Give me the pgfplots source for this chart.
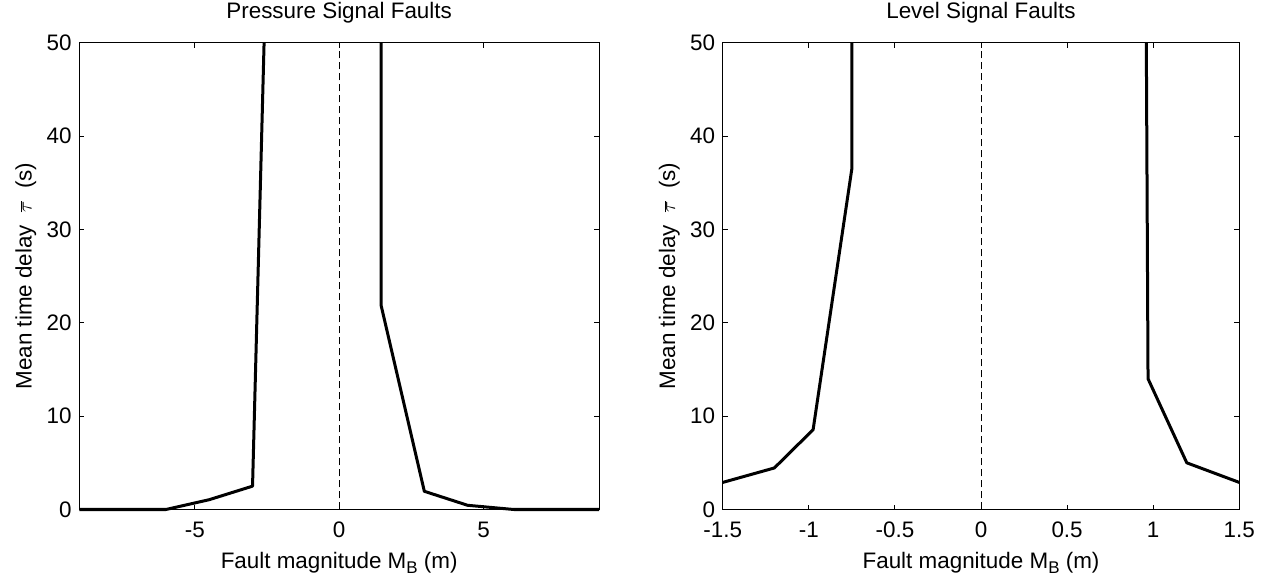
\documentclass[border=0pt]{standalone}
\usepackage{pgfplots}
\pgfplotsset{compat=1.18}
\usepackage{fontspec}
\setmainfont{Liberation Sans}
\begin{document}
\begin{tikzpicture}
\useasboundingbox (0,0) rectangle (1270bp,581bp);
\pgfplotsset{
  myax/.style={
    scale only axis, anchor=south west,
    height=466.8bp, clip=false,
    ymin=0, ymax=50, ytick={0,10,20,30,40,50},
    tick align=inside, tick pos=both, major tick length=5bp,
    axis line style={line width=1bp}, every tick/.style={line width=0.9bp, black},
    font=\fontsize{22.5}{26}\selectfont,
    /pgf/number format/assume math mode=true,
    xticklabel style={anchor=base, yshift=-27.5bp, inner sep=0pt},
    yticklabel style={anchor=east, xshift=-7.5bp, inner sep=0pt},
    title style={at={(axis description cs:0.5,1.040)}, anchor=base, inner sep=0pt},
    xlabel style={at={(axis description cs:0.5,-0.126)}, anchor=base, inner sep=0pt},
    xlabel={Fault magnitude M\raisebox{-0.45ex}{\fontsize{17}{17}\selectfont B} (m)},
    ylabel={Mean time delay\ \ $\overline{\tau}$\ \ (s)},
  },
  dataline/.style={black, line width=3bp, line join=round},
  zeroline/.style={black, line width=1bp, dash pattern=on 7bp off 4bp},
}
% Left panel
\begin{axis}[myax, at={(79.3bp,71.5bp)}, width=519.7bp,
  xmin=-9, xmax=9, xtick={-5,0,5},
  ylabel style={at={(axis description cs:-0.0916,0.5)}, anchor=base, inner sep=0pt},
  title={Pressure Signal Faults}]
\addplot[dataline] coordinates {(-9,0) (-6,0) (-4.5,1.05) (-3,2.5) (-2.6,50)};
\addplot[dataline] coordinates {(1.45,50) (1.45,21.9) (2.95,1.95) (4.45,0.45) (6.05,0) (9,0)};
\addplot[zeroline] coordinates {(0,0) (0,50)};
\end{axis}
% Right panel
\begin{axis}[myax, at={(722.7bp,71.5bp)}, width=516.6bp,
  xmin=-1.5, xmax=1.5, xtick={-1.5,-1,-0.5,0,0.5,1,1.5},
  ylabel style={at={(axis description cs:-0.0921,0.5)}, anchor=base, inner sep=0pt},
  title={Level Signal Faults}]
\addplot[dataline] coordinates {(-1.5,2.9) (-1.2,4.45) (-0.975,8.55) (-0.75,36.5) (-0.75,50)};
\addplot[dataline] coordinates {(0.96,50) (0.97,14.0) (1.195,5.0) (1.5,2.9)};
\addplot[zeroline] coordinates {(0,0) (0,50)};
\end{axis}
\end{tikzpicture}
\end{document}
